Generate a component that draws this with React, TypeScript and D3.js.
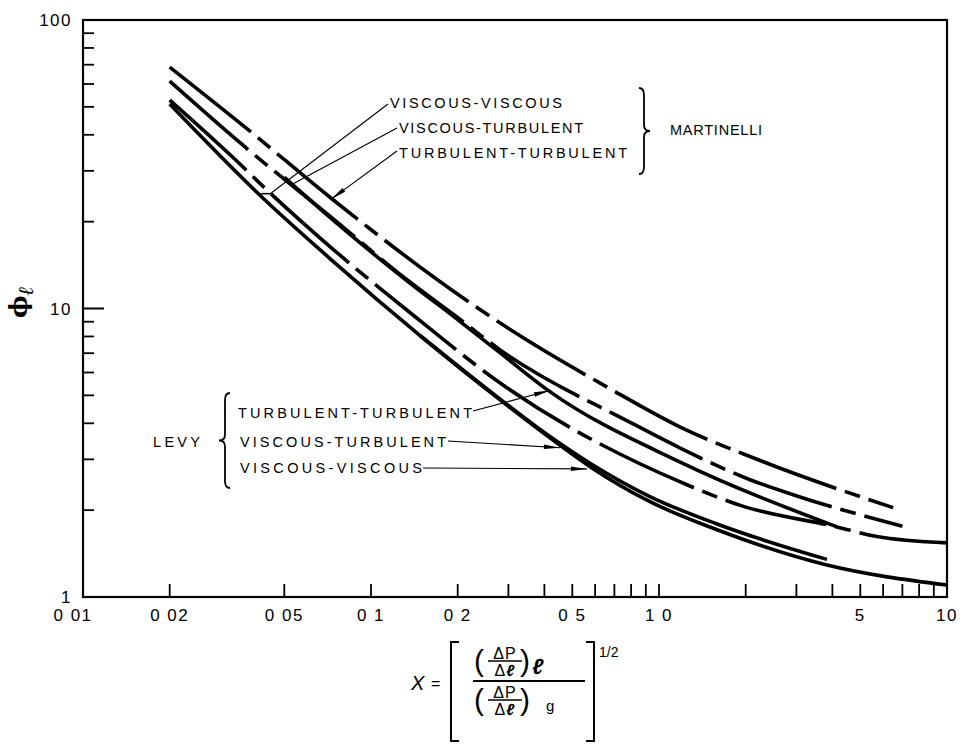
import React from 'react';
import * as d3 from 'd3';

type Pt = [number, number];

// Martinelli curves (dashed), X vs phi_l
const martTT: Pt[] = [[0.02, 68.7], [0.038, 41.2], [0.072, 24.3], [0.226, 10.3], [0.316, 8.25], [0.665, 5.32], [1.18, 3.89], [2.21, 2.99], [6.5, 2.04]];
const martVT: Pt[] = [[0.02, 61.4], [0.0356, 37.1], [0.072, 20.9], [0.133, 12.6], [0.204, 9.16], [0.28, 7.2], [0.81, 3.99], [1.18, 3.29], [2.07, 2.55], [3.01, 2.24], [7.0, 1.76]];
const martVV: Pt[] = [[0.02, 52.8], [0.0337, 32.9], [0.0422, 26.5], [0.072, 16.4], [0.142, 9.38], [0.28, 5.53], [1.18, 2.51], [1.94, 2.07], [4.15, 1.75], [5.71, 1.62], [10, 1.54]];

// Levy curves (solid)
const levyTT: Pt[] = [[0.05, 28.5], [0.072, 20.7], [0.133, 12.5], [0.204, 9.01], [0.28, 7.03], [0.418, 5.15], [1.18, 2.94], [4.15, 1.75]];
const levyVT: Pt[] = [[0.148, 8.06], [0.28, 4.86], [0.418, 3.6], [0.576, 2.91], [0.93, 2.23], [1.59, 1.79], [3.83, 1.35]];
const levyVV: Pt[] = [[0.02, 51.1], [0.0422, 24.1], [0.072, 14.9], [0.148, 8.06], [0.28, 4.83], [0.418, 3.56], [0.576, 2.83], [0.93, 2.14], [1.59, 1.71], [3.83, 1.29], [10, 1.1]];

const xTickValues = [0.02, 0.05, 0.1, 0.2, 0.3, 0.4, 0.5, 0.6, 0.7, 0.8, 0.9, 1, 2, 3, 4, 5, 6, 7, 8, 9];
const yMinorTicks = [2, 3, 4, 5, 6, 7, 8, 9, 20, 30, 40, 50, 60, 70, 80, 90];
const xLabelValues = [0.01, 0.02, 0.05, 0.1, 0.2, 0.5, 1, 5, 10];
const xLabelTexts = ['0 01', '0 02', '0 05', '0 1', '0 2', '0 5', '1 0', '5', '10'];
const yLabelValues = [1, 10, 100];
const yLabelTexts = ['1', '10', '100'];

const font = '"Liberation Sans", Arial, Helvetica, sans-serif';

function brace(xc: number, y0: number, y1: number, s: number) {
  const ym = (y0 + y1) / 2;
  return `M${xc + s * 5},${y0} Q${xc},${y0} ${xc},${y0 + 7} L${xc},${ym - 6} Q${xc},${ym} ${xc - s * 6},${ym} Q${xc},${ym} ${xc},${ym + 6} L${xc},${y1 - 7} Q${xc},${y1} ${xc + s * 5},${y1}`;
}

function wedge(x1: number, y1: number, x2: number, y2: number) {
  const dx = x2 - x1, dy = y2 - y1;
  const len = Math.hypot(dx, dy);
  const ux = dx / len, uy = dy / len;
  const bx = x2 - ux * 16, by = y2 - uy * 16;
  const nx = -uy * 2.3, ny = ux * 2.3;
  return `M${x2},${y2} L${bx + nx},${by + ny} L${bx - nx},${by - ny} Z`;
}

export default function App() {
  const x = d3.scaleLog().domain([0.01, 10]).range([83, 947]);
  const y = d3.scaleLog().domain([1, 100]).range([597, 20]);
  const line = d3.line<Pt>().x(d => x(d[0])).y(d => y(d[1])).curve(d3.curveMonotoneX);

  const dashed = [martTT, martVT, martVV];
  const solid = [levyTT, levyVT, levyVV];

  // leader lines: label end (px) -> point on curve (data)
  const pxy = (p: Pt): Pt => [x(p[0]), y(p[1])];
  const mVV = pxy([0.0447, 25.0]);
  const mVT = pxy([0.0535, 27.0]);
  const mTT = pxy([0.0726, 23.9]);
  const lTT = pxy([0.418, 5.2]);
  const lVT = pxy([0.453, 3.29]);
  const lVV = pxy([0.562, 2.78]);

  const leaders = [
    { from: [388, 104] as Pt, to: mVV, arrow: false },
    { from: [397, 128] as Pt, to: mVT, arrow: false },
    { from: [397, 151] as Pt, to: mTT, arrow: true },
    { from: [473, 411] as Pt, to: lTT, arrow: true },
    { from: [448, 441] as Pt, to: lVT, arrow: true },
    { from: [423, 468] as Pt, to: lVV, arrow: true },
  ];

  return (
    <svg width={962} height={747} style={{ position: 'absolute', left: 0, top: 0, background: '#fff' }} fontFamily={font}>
      {/* frame */}
      <rect x={83} y={20} width={864} height={577} fill="none" stroke="#000" strokeWidth={2.2} />
      {xTickValues.map(v => (
        <line key={'xt' + v} x1={x(v)} x2={x(v)} y1={597} y2={584} stroke="#000" strokeWidth={1.8} />
      ))}
      {yMinorTicks.map(v => (
        <line key={'yt' + v} x1={83} x2={94} y1={y(v)} y2={y(v)} stroke="#000" strokeWidth={1.8} />
      ))}
      <line x1={83} x2={104} y1={y(10)} y2={y(10)} stroke="#000" strokeWidth={2} />
      {xLabelValues.map((v, i) => (
        <text key={'xl' + v} x={x(v) + (i === 0 ? -10 : 0)} y={621} textAnchor="middle" fontSize={17} letterSpacing={1.5}>
          {xLabelTexts[i]}
        </text>
      ))}
      {yLabelValues.map((v, i) => (
        <text key={'yl' + v} x={72} y={y(v) + 6} textAnchor="end" fontSize={17} letterSpacing={1.5}>
          {yLabelTexts[i]}
        </text>
      ))}

      {/* curves */}
      {dashed.map((d, i) => (
        <path key={'m' + i} d={line(d) || ''} fill="none" stroke="#000" strokeWidth={3.6} strokeDasharray="104 9 16 9" />
      ))}
      {solid.map((d, i) => (
        <path key={'l' + i} d={line(d) || ''} fill="none" stroke="#000" strokeWidth={3.6} />
      ))}

      {/* leaders */}
      {leaders.map((l, i) => (
        <g key={'ld' + i}>
          <line x1={l.from[0]} y1={l.from[1]} x2={l.to[0]} y2={l.to[1]} stroke="#000" strokeWidth={1.1} />
          {l.arrow && <path d={wedge(l.from[0], l.from[1], l.to[0], l.to[1])} fill="#000" />}
        </g>
      ))}
      <line x1={mVV[0] - 9} x2={mVV[0]} y1={mVV[1]} y2={mVV[1]} stroke="#000" strokeWidth={1.6} />

      {/* Martinelli labels */}
      <g fontSize={14.5}>
        <text x={390} y={108} textLength={172} lengthAdjust="spacing">VISCOUS-VISCOUS</text>
        <text x={399} y={133} textLength={184} lengthAdjust="spacing">VISCOUS-TURBULENT</text>
        <text x={399} y={158} textLength={228} lengthAdjust="spacing">TURBULENT-TURBULENT</text>
        <text x={670} y={135} textLength={92} lengthAdjust="spacing">MARTINELLI</text>
      </g>
      <path d={brace(644, 88, 174, -1)} fill="none" stroke="#000" strokeWidth={1.8} />

      {/* Levy labels */}
      <g fontSize={14.5}>
        <text x={238} y={418} textLength={234} lengthAdjust="spacing">TURBULENT-TURBULENT</text>
        <text x={240} y={447} textLength={206} lengthAdjust="spacing">VISCOUS-TURBULENT</text>
        <text x={240} y={473} textLength={182} lengthAdjust="spacing">VISCOUS-VISCOUS</text>
        <text x={153} y={447} textLength={47} lengthAdjust="spacing">LEVY</text>
      </g>
      <path d={brace(225, 393, 488, 1)} fill="none" stroke="#000" strokeWidth={1.8} />

      {/* y title */}
      <text transform="translate(27,318) rotate(-90)" fontSize={24} fontWeight="bold" fontFamily="DejaVu Serif, serif">
        <tspan>ϕ</tspan>
        <tspan fontSize={21} fontStyle="italic" dy={6}>ℓ</tspan>
      </text>

      {/* x title */}
      <g>
        <text x={411} y={690} fontSize={20} fontStyle="italic">X</text>
        <text x={431} y={689} fontSize={16}>=</text>
        <path d="M459,642 L451,642 L451,741 L459,741" fill="none" stroke="#000" strokeWidth={2} />
        <path d="M586,642 L594,642 L594,741 L586,741" fill="none" stroke="#000" strokeWidth={2} />
        <text x={599} y={657} fontSize={14}>1/2</text>
        <line x1={473} x2={585} y1={681} y2={681} stroke="#000" strokeWidth={1.8} />
        {[0, 39].map(o => (
          <g key={o}>
            <text x={474} y={671 + o} fontSize={30} fontWeight={300}>(</text>
            <text x={505} y={659 + o} fontSize={16} letterSpacing={1} textAnchor="middle">ΔP</text>
            <line x1={488} x2={522} y1={661 + o} y2={661 + o} stroke="#000" strokeWidth={1.6} />
            <text x={505} y={676 + o} fontSize={16} letterSpacing={1} textAnchor="middle">Δ<tspan fontStyle="italic" fontWeight="bold">ℓ</tspan></text>
            <text x={520} y={671 + o} fontSize={30} fontWeight={300}>)</text>
          </g>
        ))}
        <text x={532} y={674} fontSize={22} fontStyle="italic" fontWeight="bold">ℓ</text>
        <text x={546} y={711} fontSize={15}>g</text>
      </g>
    </svg>
  );
}
